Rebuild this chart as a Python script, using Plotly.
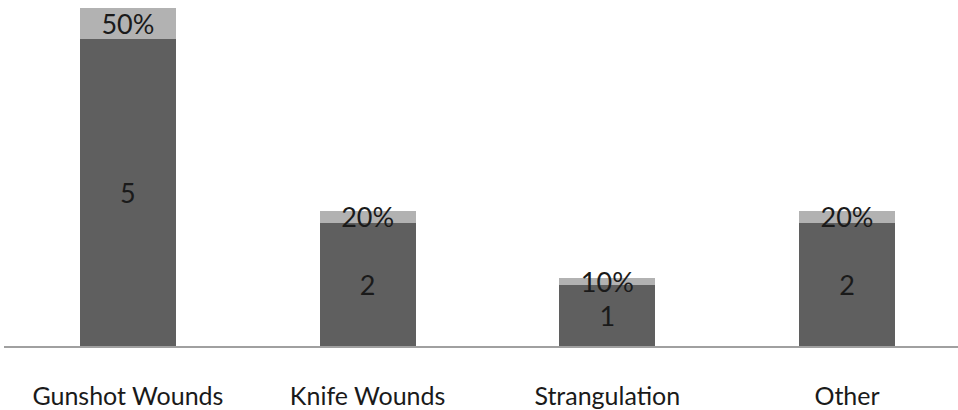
import plotly.graph_objects as go

categories = ["Gunshot Wounds", "Knife Wounds", "Strangulation", "Other"]
counts = [5, 2, 1, 2]
percents = [50, 20, 10, 20]

count_labels = [str(c) for c in counts]
pct_labels = [f"{p}%" for p in percents]
pct_heights = [p / 100 for p in percents]

FONT = "Lato"
fig = go.Figure()
fig.add_trace(go.Bar(
    x=categories, y=counts, marker=dict(color="#5f5f5f", line=dict(width=0)),
    text=count_labels, textposition="inside", insidetextanchor="middle",
    textfont=dict(family=FONT, size=27, color="#1a1a1a"), constraintext="none",
    hoverinfo="skip",
))
fig.add_trace(go.Bar(
    x=categories, y=pct_heights, marker=dict(color="#b2b2b2", line=dict(width=0)),
    text=pct_labels, textposition="inside", insidetextanchor="middle",
    textfont=dict(family=FONT, size=27, color="#1a1a1a"), constraintext="none",
    hoverinfo="skip", cliponaxis=False,
))

fig.update_layout(
    barmode="stack", bargap=0.6, showlegend=False,
    width=958, height=410,
    margin=dict(l=4, r=0, t=0, b=64),
    paper_bgcolor="white", plot_bgcolor="white",
    xaxis=dict(
        range=[-0.517, 3.463], showgrid=False, zeroline=False,
        showline=True, linecolor="#a0a0a0", linewidth=1.5,
        ticks="outside", ticklen=27, tickcolor="rgba(0,0,0,0)",
        tickfont=dict(family=FONT, size=25, color="#1a1a1a"),
        automargin=False, fixedrange=True,
    ),
    yaxis=dict(
        range=[0, 5.626], visible=False, showgrid=False, zeroline=False,
        automargin=False, fixedrange=True,
    ),
)

fig.write_html(
    "out.html",
    config={"displayModeBar": False},
    post_script="document.body.style.margin='0';document.body.style.overflow='hidden';",
)
